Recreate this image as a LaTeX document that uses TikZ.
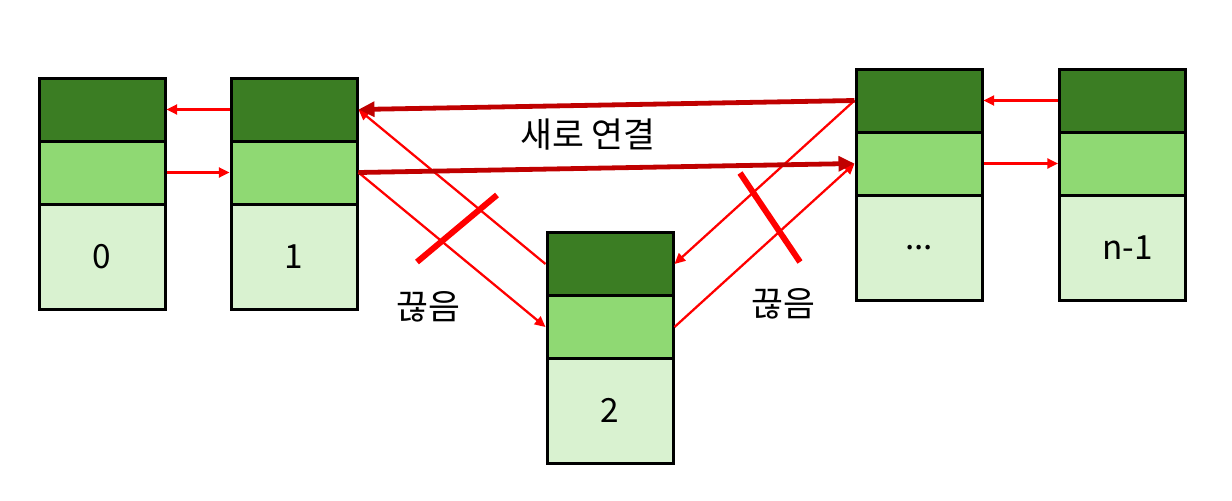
\documentclass[tikz,border=0pt]{standalone}
\usepackage{fontspec}
\setmainfont{Noto Sans CJK KR}
\usetikzlibrary{arrows.meta}
\definecolor{dg}{HTML}{3B7D23}
\definecolor{mg}{HTML}{8FD973}
\definecolor{lg}{HTML}{D9F2D0}
\definecolor{dred}{HTML}{C00000}
\tikzset{
 cell/.style={draw=black, line width=2.25pt, minimum width=94.5pt, inner sep=0pt},
 topcell/.style={cell, fill=dg, minimum height=47.25pt},
 midcell/.style={cell, fill=mg, minimum height=47.25pt},
 datacell/.style={cell, fill=lg, minimum height=78.75pt, font=\fontsize{25}{29}\selectfont},
 link/.style={red, line width=1.7pt, -{Triangle[length=8pt,width=7.5pt]}},
 newlink/.style={dred, line width=3.6pt, -{Triangle[length=12pt,width=11pt]}},
 cut/.style={red, line width=4.5pt},
 lbl/.style={font=\fontsize{26}{30}\selectfont}
}
\begin{document}
\begin{tikzpicture}[x=0.75pt,y=-0.75pt]
\useasboundingbox (0,0) rectangle (1232,500);
% box 0
\node[datacell] (b0b) at (102,256.5) {0};
\node[midcell] (b0m) at (102,172.5) {};
\node[topcell] (b0t) at (102,109.5) {};
% box 1
\node[datacell] (b1b) at (294,256.5) {1};
\node[midcell] (b1m) at (294,172.5) {};
\node[topcell] (b1t) at (294,109.5) {};
% box 2
\node[datacell] (b2b) at (610,410.5) {2};
\node[midcell] (b2m) at (610,327) {};
\node[topcell] (b2t) at (610,264) {};
% box ...
\node[datacell] (bdb) at (919,247.5) {...};
\node[midcell] (bdm) at (919,163.5) {};
\node[topcell] (bdt) at (919,100.5) {};
% box n-1
\node[datacell] (bnb) at (1122.5,247.5) {\hspace{8pt}n-1};
\node[midcell] (bnm) at (1122.5,163.5) {};
\node[topcell] (bnt) at (1122.5,100.5) {};
% simple links
\draw[link] (b1t.west) -- (b0t.east);
\draw[link] (b0m.east) -- (b1m.west);
\draw[link] (bnt.west) -- (bdt.east);
\draw[link] (bdm.east) -- (bnm.west);
% old links via node 2
\draw[link] (b2t.west) -- (b1t.east);
\draw[link] (b1m.east) -- (b2m.west);
\draw[link] (bdt.west) -- (b2t.east);
\draw[link] (b2m.east) -- (bdm.west);
% new links
\draw[newlink] (bdt.west) -- (b1t.east);
\draw[newlink] (b1m.east) -- (bdm.west);
% cut marks
\coordinate (c1a) at (417,262);
\coordinate (c1b) at (497,195);
\coordinate (c2a) at (740,173);
\coordinate (c2b) at (800,262);
\draw[cut] (c1a) -- (c1b);
\draw[cut] (c2a) -- (c2b);
% labels
\node[lbl] (newlbl) at (588,135) {새로 연결};
\node[lbl] (cutlbl1) at (428,307) {끊음};
\node[lbl] (cutlbl2) at (783,304) {끊음};
\end{tikzpicture}
\end{document}
